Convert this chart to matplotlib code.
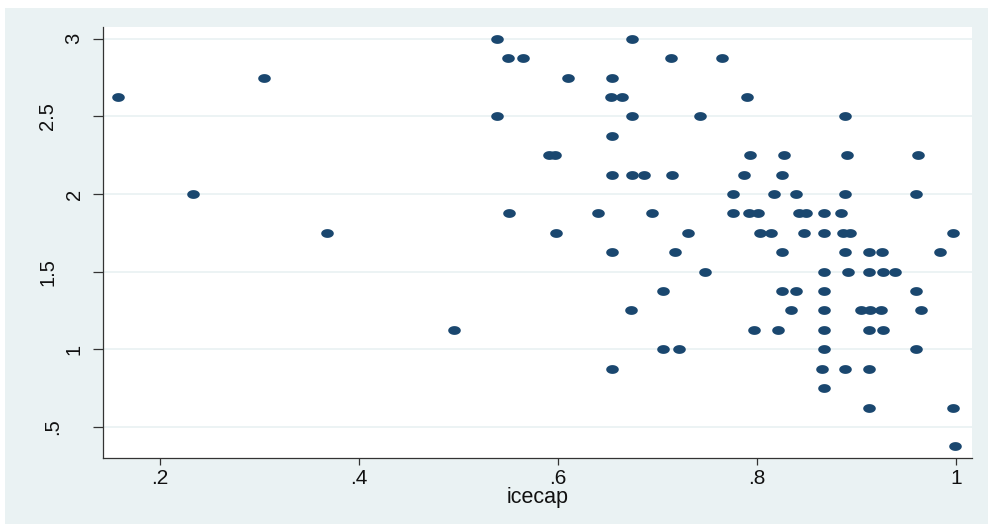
import matplotlib
matplotlib.use("Agg")
import matplotlib.pyplot as plt
import numpy as np
from matplotlib.path import Path
from matplotlib.patches import Rectangle
from matplotlib.transforms import blended_transform_factory

# ---- data ----
icecap = [
    0.539, 0.674,                                                   # 3.0
    0.550, 0.565, 0.714, 0.765,                                     # 2.875
    0.305, 0.610, 0.654,                                            # 2.75
    0.158, 0.653, 0.664, 0.790,                                     # 2.625
    0.539, 0.674, 0.743, 0.888,                                     # 2.5
    0.654,                                                          # 2.375
    0.591, 0.597, 0.793, 0.827, 0.890, 0.962,                       # 2.25
    0.654, 0.674, 0.686, 0.715, 0.787, 0.825,                       # 2.125
    0.2335, 0.776, 0.817, 0.839, 0.888, 0.960,                      # 2.0
    0.551, 0.640, 0.694, 0.776, 0.792, 0.801, 0.842, 0.849, 0.867, 0.884,  # 1.875
    0.3675, 0.598, 0.731, 0.803, 0.814, 0.847, 0.867, 0.886, 0.893, 0.997, # 1.75
    0.654, 0.718, 0.825, 0.888, 0.913, 0.926, 0.984,                # 1.625
    0.748, 0.867, 0.891, 0.913, 0.927, 0.939,                       # 1.5
    0.706, 0.825, 0.839, 0.867, 0.960,                              # 1.375
    0.673, 0.834, 0.867, 0.905, 0.914, 0.925, 0.965,                # 1.25
    0.495, 0.797, 0.821, 0.867, 0.913, 0.927,                       # 1.125
    0.706, 0.722, 0.867, 0.960,                                     # 1.0
    0.654, 0.865, 0.888, 0.913,                                     # 0.875
    0.867,                                                          # 0.75
    0.913, 0.997,                                                   # 0.625
    0.999,                                                          # 0.375
]
yvar = (
    [3.0] * 2 + [2.875] * 4 + [2.75] * 3 + [2.625] * 4 + [2.5] * 4 + [2.375] * 1
    + [2.25] * 6 + [2.125] * 6 + [2.0] * 6 + [1.875] * 10 + [1.75] * 10
    + [1.625] * 7 + [1.5] * 6 + [1.375] * 5 + [1.25] * 7 + [1.125] * 6
    + [1.0] * 4 + [0.875] * 4 + [0.75] * 1 + [0.625] * 2 + [0.375] * 1
)
xticks = [0.2, 0.4, 0.6, 0.8, 1.0]
xticklabels = [".2", ".4", ".6", ".8", "1"]
yticks = [0.5, 1.0, 1.5, 2.0, 2.5, 3.0]
yticklabels = [".5", "1", "1.5", "2", "2.5", "3"]
xlabel = "icecap"

# ---- style ----
W, H = 988, 524
bg = "#EAF2F3"
navy = "#1A476F"
plt.rcParams['font.family'] = ['Liberation Sans', 'DejaVu Sans']

fig = plt.figure(figsize=(W / 100, H / 100), dpi=100, facecolor="white")
fig.patches.append(Rectangle((5 / W, 0), 1 - 5 / W, 1 - 8 / H, transform=fig.transFigure,
                             facecolor=bg, edgecolor="none", zorder=-10))

ax_l, ax_r, ax_t, ax_b = 103, 971.7, 27.3, 458.3
ax = fig.add_axes([ax_l / W, 1 - ax_b / H, (ax_r - ax_l) / W, (ax_b - ax_t) / H])
ax.set_facecolor("white")

# ellipse marker (wider than tall, as in the reference)
t = np.linspace(0, 2 * np.pi, 60)
ell = Path(np.column_stack([np.cos(t), 0.70 * np.sin(t)]), closed=True)

ax.scatter(icecap, yvar, s=82, marker=ell, color=navy, linewidths=0, zorder=3)

ax.set_xlim(0.1427, 1.0158)
ax.set_ylim(0.298, 3.0734)

for yv in yticks:
    ax.axhline(yv, color=bg, lw=1.3, zorder=1)

for s in ["top", "right"]:
    ax.spines[s].set_visible(False)
for s in ["left", "bottom"]:
    ax.spines[s].set_color("#333333")
    ax.spines[s].set_linewidth(0.9)

ax.set_xticks(xticks)
ax.set_xticklabels(xticklabels, fontsize=15, color="#111111")
ax.tick_params(axis="x", length=5, width=0.9, color="#333333", pad=2.5)
ax.set_yticks(yticks)
ax.set_yticklabels([])
ax.tick_params(axis="y", length=7.2, width=0.9, color="#333333")

# rotated y labels, placed like the reference (longer labels sit further left)
trans = blended_transform_factory(fig.transFigure, ax.transData)
centers = {1: 74, 2: 52.5, 3: 47.5}
for yv, lab in zip(yticks, yticklabels):
    cx = centers[len(lab)]
    ax.text(cx / W, yv, lab, transform=trans, rotation=90, ha="center", va="center",
            fontsize=14.5, color="#111111")

fig.text((ax_l + ax_r) / 2 / W, 1 - 497 / H, xlabel, ha="center", va="center",
         fontsize=15.5, color="#111111")

fig.savefig("out.png", dpi=100, facecolor=fig.get_facecolor())
